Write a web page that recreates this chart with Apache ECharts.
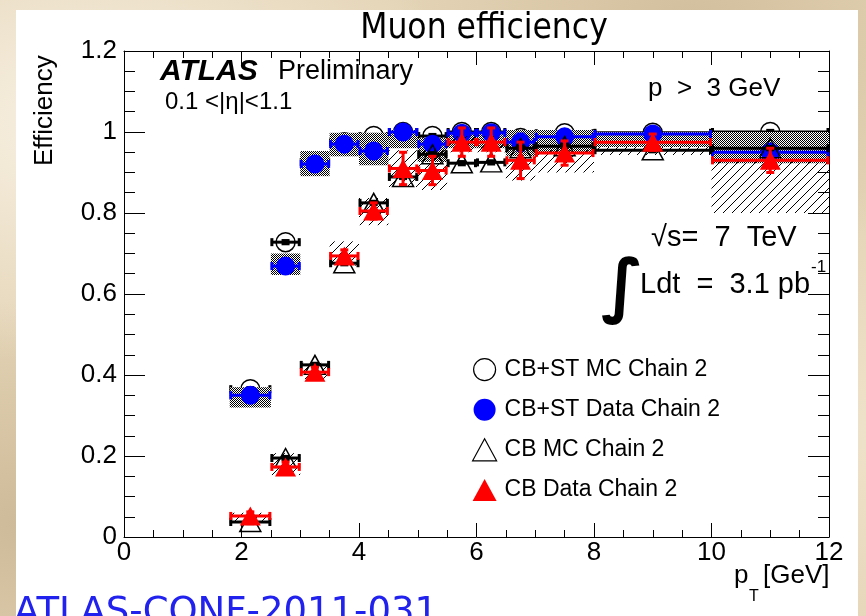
<!DOCTYPE html>
<html>
<head>
<meta charset="utf-8">
<script src="https://cdn.jsdelivr.net/npm/echarts@6/dist/echarts.min.js"></script>
<style>
  html, body { margin: 0; padding: 0; }
  body {
    width: 866px; height: 616px; overflow: hidden;
    background:
      radial-gradient(ellipse at 10% 20%, rgba(250,244,232,0.9) 0, rgba(250,244,232,0) 35%),
      radial-gradient(ellipse at 80% 5%, rgba(205,185,150,0.8) 0, rgba(205,185,150,0) 30%),
      radial-gradient(ellipse at 95% 70%, rgba(240,228,205,0.9) 0, rgba(240,228,205,0) 40%),
      radial-gradient(ellipse at 3% 85%, rgba(200,180,145,0.8) 0, rgba(200,180,145,0) 30%),
      #e4d4b6;
  }
  #chart { width: 866px; height: 616px; }
</style>
</head>
<body>
<div id="chart"></div>
<script>
// pT bins [GeV]
const binLo     = [1.8, 2.5, 3.0, 3.5, 4.0, 4.5, 5.0, 5.5, 6.0, 6.5, 7.0, 8.0, 10.0];
const binHi     = [2.5, 3.0, 3.5, 4.0, 4.5, 5.0, 5.5, 6.0, 6.5, 7.0, 8.0, 10.0, 12.0];
const binCenter = [2.15, 2.75, 3.25, 3.75, 4.25, 4.75, 5.25, 5.75, 6.25, 6.75, 7.5, 9.0, 11.0];

// CB+ST chain 2
const cbstMC       = [0.365, 0.728, 0.926, 0.975, 0.990, 1.000, 0.990, 1.000, 1.000, 0.985, 0.997, 0.998, 1.000];
const cbstData     = [0.350, 0.669, 0.921, 0.970, 0.953, 1.000, 0.970, 0.997, 0.998, 0.975, 0.988, 0.995, 0.950];
const cbstDataErr  = [0.012, 0.012, 0.010, 0.010, 0.015, 0.010, 0.012, 0.012, 0.012, 0.020, 0.015, 0.010, 0.020];
const cbstSysLo    = [0.320, 0.647, 0.891, 0.940, 0.918, 0.960, 0.926, 0.960, 0.960, 0.940, 0.948, 0.963, 0.923];
const cbstSysHi    = [0.370, 0.700, 0.953, 0.998, 0.998, 1.005, 0.985, 1.000, 1.000, 1.005, 1.005, 1.000, 1.000];

// CB chain 2
const cbMC         = [0.037, 0.195, 0.425, 0.676, 0.825, 0.889, 0.945, 0.923, 0.925, 0.960, 0.965, 0.955, 0.960];
const cbData       = [0.052, 0.173, 0.407, 0.694, 0.805, 0.910, 0.905, 0.975, 0.975, 0.930, 0.948, 0.975, 0.930];
const cbDataErr    = [0.010, 0.012, 0.012, 0.015, 0.020, 0.040, 0.035, 0.035, 0.035, 0.045, 0.030, 0.020, 0.030];
const cbSysLo      = [0.035, 0.153, 0.390, 0.670, 0.770, 0.864, 0.857, 0.950, 0.950, 0.880, 0.900, 0.943, 0.800];
const cbSysHi      = [0.060, 0.207, 0.430, 0.730, 0.837, 0.955, 0.955, 0.990, 0.990, 0.936, 0.955, 0.963, 0.930];

const mcErr = 0.004;

const yTicks = [0, 0.2, 0.4, 0.6, 0.8, 1, 1.2];
const xTicks = [0, 2, 4, 6, 8, 10, 12];

const names = ['CB+ST MC Chain 2', 'CB+ST Data Chain 2', 'CB MC Chain 2', 'CB Data Chain 2'];

// fill patterns: dithered checker and diagonal hatching
function checkerPattern() {
  const c = document.createElement('canvas');
  c.width = 2; c.height = 2;
  const g = c.getContext('2d');
  g.fillStyle = '#ffffff'; g.fillRect(0, 0, 2, 2);
  g.fillStyle = '#000000'; g.fillRect(0, 0, 1, 1); g.fillRect(1, 1, 1, 1);
  return c;
}
function hatchPattern() {
  const c = document.createElement('canvas');
  c.width = 9; c.height = 9;
  const g = c.getContext('2d');
  g.strokeStyle = '#000'; g.lineWidth = 1;
  g.beginPath();
  g.moveTo(-1, 10); g.lineTo(10, -1);
  g.moveTo(-1, 1); g.lineTo(1, -1);
  g.moveTo(8, 10); g.lineTo(10, 8);
  g.stroke();
  return c;
}
const checker = checkerPattern();
const hatch = hatchPattern();

function pointRows(vals, err) {
  return binCenter.map((x, i) => [x, vals[i], binLo[i], binHi[i], vals[i] - err(i), vals[i] + err(i)]);
}
function boxRows(lo, hi) {
  return binCenter.map((x, i) => [binLo[i], binHi[i], lo[i], hi[i]]);
}

function errBars(color) {
  return function (params, api) {
    const xc = api.value(0), y = api.value(1);
    const xl = api.value(2), xh = api.value(3);
    const yl = api.value(4), yh = api.value(5);
    const pL = api.coord([xl, y]), pR = api.coord([xh, y]);
    const pB = api.coord([xc, yl]), pT = api.coord([xc, yh]);
    const st = { stroke: color, lineWidth: 3 };
    const cap = 4;
    const kids = [
      { type: 'line', shape: { x1: pL[0], y1: pL[1], x2: pR[0], y2: pR[1] }, style: st },
      { type: 'line', shape: { x1: pL[0] + 1, y1: pL[1] - cap, x2: pL[0] + 1, y2: pL[1] + cap }, style: st },
      { type: 'line', shape: { x1: pR[0] - 1, y1: pR[1] - cap, x2: pR[0] - 1, y2: pR[1] + cap }, style: st },
      { type: 'line', shape: { x1: pB[0], y1: pB[1], x2: pT[0], y2: pT[1] }, style: st },
      { type: 'line', shape: { x1: pB[0] - cap, y1: pB[1], x2: pB[0] + cap, y2: pB[1] }, style: st },
      { type: 'line', shape: { x1: pT[0] - cap, y1: pT[1], x2: pT[0] + cap, y2: pT[1] }, style: st }
    ];
    return { type: 'group', children: kids };
  };
}
function boxes(pattern) {
  return function (params, api) {
    const a = api.coord([api.value(0), api.value(3)]);
    const b = api.coord([api.value(1), api.value(2)]);
    return {
      type: 'rect',
      shape: { x: a[0], y: a[1], width: b[0] - a[0], height: b[1] - a[1] },
      style: { fill: { image: pattern, repeat: 'repeat' }, stroke: null }
    };
  };
}

const font = '"Liberation Sans", Arial, sans-serif';
const handFont = '"DejaVu Sans Condensed", "DejaVu Sans", sans-serif';

const chart = echarts.init(document.getElementById('chart'));

const axisBase = {
  axisLine: { show: true, onZero: false, lineStyle: { color: '#000', width: 1 } },
  splitLine: { show: false },
  minorSplitLine: { show: false }
};

chart.setOption({
  animation: false,
  grid: { left: 124, right: 37, top: 51, bottom: 79 },
  graphic: [
    { type: 'rect', z: -100, shape: { x: 16, y: 10, width: 842, height: 610 }, style: { fill: '#ffffff' } },
    { type: 'text', x: 484, y: 11, style: { text: 'Muon efficiency', font: '35px ' + handFont, fill: '#000', textAlign: 'center' } },
    { type: 'text', x: 160, y: 57, style: { text: 'ATLAS', font: 'italic bold 30px ' + font, fill: '#000' } },
    { type: 'text', x: 278, y: 58, style: { text: 'Preliminary', font: '27px ' + font, fill: '#000' } },
    { type: 'text', x: 165, y: 90, style: { text: '0.1 <|\u03b7|<1.1', font: '24px ' + font, fill: '#000' } },
    { type: 'text', x: 648, y: 76, style: { text: 'p  >  3 GeV', font: '26px ' + font, fill: '#000' } },
    { type: 'text', x: 651, y: 223, style: { text: '\u221as=  7  TeV', font: '29px ' + font, fill: '#000' } },
    { type: 'text', x: 601, y: 256, style: { text: '\u222b', font: 'bold 70px "DejaVu Sans", sans-serif', fill: '#000' } },
    { type: 'text', x: 640, y: 270, style: { text: 'Ldt  =  3.1 pb', font: '29px ' + font, fill: '#000' } },
    { type: 'text', x: 811, y: 259, style: { text: '-1', font: '17px ' + font, fill: '#000' } },
    { type: 'text', x: 32, y: 166, rotation: Math.PI / 2, style: { text: 'Efficiency', font: '26px ' + font, fill: '#000' } },
    { type: 'text', x: 734, y: 563, style: { text: 'p', font: '26px ' + font, fill: '#000' } },
    { type: 'text', x: 749, y: 589, style: { text: 'T', font: '16px ' + font, fill: '#000' } },
    { type: 'text', x: 763, y: 563, style: { text: '[GeV]', font: '26px ' + font, fill: '#000' } },
    { type: 'text', x: 14, y: 595, style: { text: 'ATLAS-CONF-2011-031', font: '37px "DejaVu Sans", sans-serif', fill: '#2222ee' } }
  ],
  legend: {
    orient: 'vertical', left: 467, top: 353, itemGap: 17, itemWidth: 24, itemHeight: 22,
    textStyle: { fontFamily: font, fontSize: 23, lineHeight: 22, color: '#000', padding: [0, 0, 0, 3] },
    data: [
      { name: names[0], icon: 'circle', itemStyle: { color: '#fff', borderColor: '#000', borderWidth: 1.2 } },
      { name: names[1], icon: 'circle', itemStyle: { color: '#0000ff', borderWidth: 0 } },
      { name: names[2], icon: 'triangle', itemStyle: { color: '#fff', borderColor: '#000', borderWidth: 1.2 } },
      { name: names[3], icon: 'triangle', itemStyle: { color: '#ff0000', borderWidth: 0 } }
    ]
  },
  xAxis: [
    Object.assign({}, axisBase, {
      type: 'value', min: 0, max: 12, interval: 2,
      axisTick: { show: true, inside: true, length: 14, lineStyle: { color: '#000' } },
      minorTick: { show: true, splitNumber: 4, length: 7, lineStyle: { color: '#000' } },
      axisLabel: { show: true, color: '#000', fontFamily: font, fontSize: 26, margin: 3,
        formatter: v => xTicks.indexOf(v) >= 0 ? String(v) : '' }
    }),
    Object.assign({}, axisBase, {
      type: 'value', min: 0, max: 12, interval: 2, position: 'top',
      axisTick: { show: true, inside: true, length: 14, lineStyle: { color: '#000' } },
      minorTick: { show: true, splitNumber: 4, length: 7, lineStyle: { color: '#000' } },
      axisLabel: { show: false }
    })
  ],
  yAxis: [
    Object.assign({}, axisBase, {
      type: 'value', min: 0, max: 1.2, interval: 0.2,
      axisTick: { show: true, inside: true, length: 21, lineStyle: { color: '#000' } },
      minorTick: { show: true, splitNumber: 4, length: 11, lineStyle: { color: '#000' } },
      axisLabel: { show: true, color: '#000', fontFamily: font, fontSize: 26, margin: 7,
        formatter: v => {
          const t = yTicks.find(k => Math.abs(k - v) < 1e-6);
          if (t === undefined) return '';
          return (t === 0 || t === 1) ? String(t) : t.toFixed(1);
        } }
    }),
    Object.assign({}, axisBase, {
      type: 'value', min: 0, max: 1.2, interval: 0.2, position: 'right',
      axisTick: { show: true, inside: true, length: 21, lineStyle: { color: '#000' } },
      minorTick: { show: true, splitNumber: 4, length: 11, lineStyle: { color: '#000' } },
      axisLabel: { show: false }
    })
  ],
  series: [
    // CB+ST MC
    { type: 'custom', name: 'cbstMCbars', z: 3, renderItem: errBars('#000'), data: pointRows(cbstMC, () => mcErr) },
    { type: 'scatter', name: names[0], z: 4, symbol: 'circle', symbolSize: 19,
      itemStyle: { color: 'rgba(255,255,255,0)', borderColor: '#000', borderWidth: 1.5, opacity: 1 },
      data: binCenter.map((x, i) => [x, cbstMC[i]]) },
    // CB+ST data systematics, bars, points
    { type: 'custom', name: 'cbstSys', z: 5, renderItem: boxes(checker), data: boxRows(cbstSysLo, cbstSysHi) },
    { type: 'custom', name: 'cbstDataBars', z: 6, renderItem: errBars('#0000ff'), data: pointRows(cbstData, i => cbstDataErr[i]) },
    { type: 'scatter', name: names[1], z: 7, symbol: 'circle', symbolSize: 19,
      itemStyle: { color: '#0000ff', opacity: 1 },
      data: binCenter.map((x, i) => [x, cbstData[i]]) },
    // CB MC
    { type: 'custom', name: 'cbMCbars', z: 8, renderItem: errBars('#000'), data: pointRows(cbMC, () => mcErr) },
    { type: 'scatter', name: names[2], z: 9, symbol: 'triangle', symbolSize: [21, 19],
      itemStyle: { color: 'rgba(255,255,255,0)', borderColor: '#000', borderWidth: 1.5, opacity: 1 },
      data: binCenter.map((x, i) => [x, cbMC[i]]) },
    // CB data systematics, bars, points
    { type: 'custom', name: 'cbSys', z: 10, renderItem: boxes(hatch), data: boxRows(cbSysLo, cbSysHi) },
    { type: 'custom', name: 'cbDataBars', z: 11, renderItem: errBars('#ff0000'), data: pointRows(cbData, i => cbDataErr[i]) },
    { type: 'scatter', name: names[3], z: 12, symbol: 'triangle', symbolSize: [21, 19],
      itemStyle: { color: '#ff0000', opacity: 1 },
      data: binCenter.map((x, i) => [x, cbData[i]]) }
  ]
});
</script>
</body>
</html>
